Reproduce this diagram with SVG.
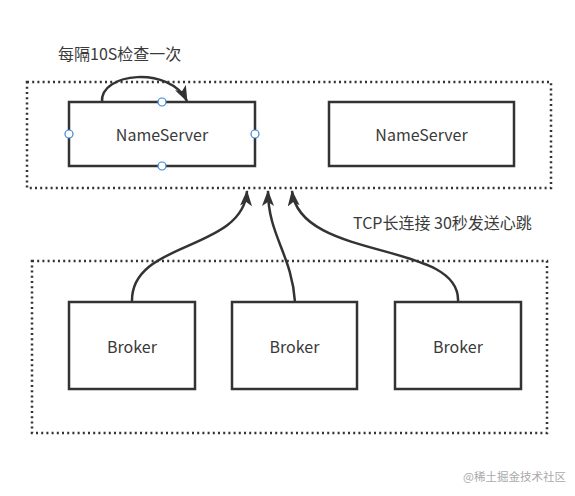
<svg xmlns="http://www.w3.org/2000/svg" width="575" height="496" viewBox="0 0 575 496">
<defs>
<style>
.grp{fill:none;stroke:#333;stroke-width:2.5;stroke-dasharray:2 3.2}
.box{fill:#fff;stroke:#333;stroke-width:2.5}
.lbl{font-family:"Noto Sans CJK SC","Noto Sans",sans-serif;font-size:16px;fill:#3a3a3a;text-anchor:middle;dominant-baseline:central}
.txt{font-family:"Noto Sans CJK SC","Noto Sans",sans-serif;font-size:16px;fill:#3a3a3a}
.edge{fill:none;stroke:#333;stroke-width:2.5}
.pt{fill:#fff;stroke:#3b86d8;stroke-width:1.2}
</style>
<marker id="ah" viewBox="0 0 16 12" markerWidth="16" markerHeight="12" refX="15" refY="6" orient="auto" markerUnits="userSpaceOnUse">
<path d="M0,0 L16,6 L0,12 L4,6 Z" fill="#333"/>
</marker>
</defs>
<rect width="575" height="496" fill="#fff"/>
<rect class="grp" x="27" y="82" width="524" height="106"/>
<rect class="grp" x="32" y="261" width="515" height="172"/>
<g id="ns1">
<rect class="box" x="69" y="102" width="186" height="64"/>
<text class="lbl" x="162" y="134">NameServer</text>
</g>
<g id="ns2">
<rect class="box" x="329" y="102" width="185" height="64"/>
<text class="lbl" x="421.5" y="134">NameServer</text>
</g>
<g id="b1">
<rect class="box" x="69" y="302" width="126" height="87"/>
<text class="lbl" x="132" y="346">Broker</text>
</g>
<g id="b2">
<rect class="box" x="232" y="302" width="125" height="87"/>
<text class="lbl" x="294.5" y="346">Broker</text>
</g>
<g id="b3">
<rect class="box" x="395" y="302" width="126" height="87"/>
<text class="lbl" x="458" y="346">Broker</text>
</g>
<g id="edges">
<path class="edge" d="M102,102 C100,72 170,66 187,101" marker-end="url(#ah)"/>
<path class="edge" d="M132,302 C130,240 243,252 247,191" marker-end="url(#ah)"/>
<path class="edge" d="M295,302 C292,255 268,235 268,191" marker-end="url(#ah)"/>
<path class="edge" d="M458,302 C462,240 300,262 292,191" marker-end="url(#ah)"/>
</g>
<g id="points">
<circle class="pt" cx="162" cy="102" r="4"/>
<circle class="pt" cx="69" cy="134" r="4"/>
<circle class="pt" cx="255" cy="134" r="4"/>
<circle class="pt" cx="162" cy="166" r="4"/>
</g>
<text class="txt" x="58" y="60">每隔10S检查一次</text>
<text class="txt" x="353" y="229">TCP长连接 30秒发送心跳</text>
<text x="566" y="481" text-anchor="end" font-family="Noto Sans CJK SC,sans-serif" font-size="11.5" fill="#aaa">@稀土掘金技术社区</text>
</svg>
